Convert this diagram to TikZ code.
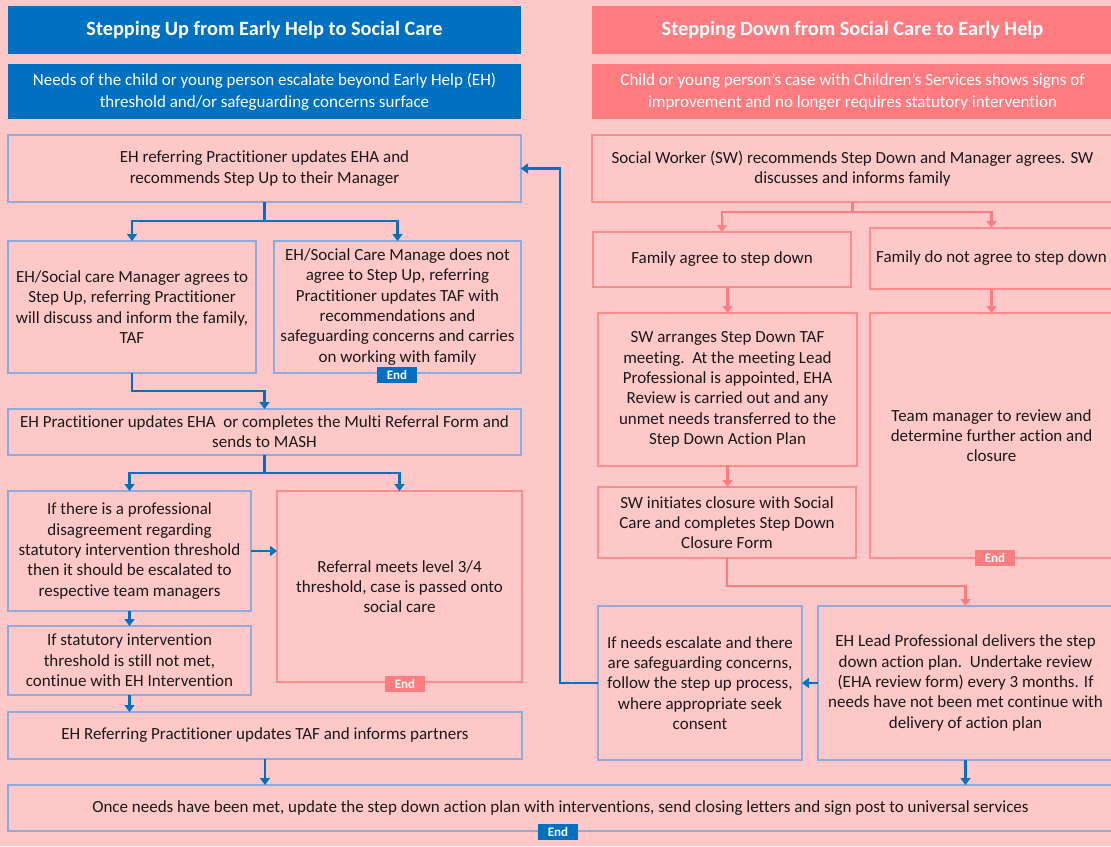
\documentclass[tikz,border=0pt]{standalone}
\usepackage{fontspec}
\setmainfont{Carlito}[Ligatures=NoCommon]
\usetikzlibrary{arrows.meta,calc}
\definecolor{bg}{RGB}{255,200,200}
\definecolor{eblue}{RGB}{0,112,192}
\definecolor{epink}{RGB}{255,124,128}
\definecolor{bborder}{RGB}{143,170,220}
\definecolor{pborder}{RGB}{255,140,140}
\definecolor{txt}{RGB}{25,25,25}
\newcommand{\mkbox}[7]{\node[#6, minimum width={(#4-#2)*1pt}, minimum height={(#5-#3)*1pt}] (#1) at ({(#2+#4)/2},{(#3+#5)/2}) {#7};}
\begin{document}
\begin{tikzpicture}[x=1pt,y=-1pt,
  box/.style={draw, line width=1.2pt, inner sep=0pt, outer sep=0pt, align=center, text=txt, font=\fontsize{17}{20.3}\selectfont},
  bbox/.style={box, draw=bborder},
  pbox/.style={box, draw=pborder},
  head/.style={inner sep=0pt, outer sep=0pt, align=center, text=white, font=\bfseries\fontsize{20.3}{24}\selectfont},
  sub/.style={inner sep=0pt, outer sep=0pt, align=center, text=white, font=\fontsize{17}{22}\selectfont},
  endlab/.style={inner sep=0pt, minimum width=40pt, minimum height=16pt, text=white, font=\bfseries\fontsize{13}{13}\selectfont},
  bline/.style={draw=eblue, line width=2.6pt},
  barrow/.style={bline, -{Triangle[width=10pt,length=7pt]}},
  pline/.style={draw=epink, line width=2.2pt},
  parrow/.style={pline, -{Triangle[width=10pt,length=7pt]}},
]
\useasboundingbox (0,0) rectangle (1111,846);
\fill[bg] (0,0) rectangle (1111,846);

% headers
\mkbox{hL}{8}{6}{521}{54}{head, fill=eblue}{Stepping Up from Early Help to Social Care}
\mkbox{sL}{8}{64}{521}{119}{sub, fill=eblue}{Needs of the child or young person escalate beyond Early Help (EH)\\threshold and/or safeguarding concerns surface}
\mkbox{hR}{592}{6}{1113}{54}{head, fill=epink}{Stepping Down from Social Care to Early Help}
\mkbox{sR}{592}{64}{1113}{119}{sub, fill=epink}{Child or young person’s case with Children’s Services shows signs of\\improvement and no longer requires statutory intervention}

% left column
\mkbox{A}{8}{135}{521}{202}{bbox}{EH referring Practitioner updates EHA and\\recommends Step Up to their Manager}
\mkbox{B1}{8}{241}{256}{373}{bbox}{EH/Social care Manager agrees to\\Step Up, referring Practitioner\\will discuss and inform the family,\\TAF}
\mkbox{B2}{274}{241}{521}{373}{bbox}{EH/Social Care Manage does not\\agree to Step Up, referring\\Practitioner updates TAF with\\recommendations and\\safeguarding concerns and carries\\on working with family}
\mkbox{C}{8}{409}{521}{455}{bbox}{EH Practitioner updates EHA\ \ or completes the Multi Referral Form and\\sends to MASH}
\mkbox{D1}{8}{491}{251}{611}{bbox}{If there is a professional\\disagreement regarding\\statutory intervention threshold\\then it should be escalated to\\respective team managers}
\mkbox{D2}{277}{491}{522}{682}{pbox}{Referral meets level 3/4\\threshold, case is passed onto\\social care}
\mkbox{E}{8}{626}{251}{695}{bbox}{If statutory intervention\\threshold is still not met,\\continue with EH Intervention}
\mkbox{F}{8}{712}{522}{759}{bbox}{EH Referring Practitioner updates TAF and informs partners}
\mkbox{G}{8}{785}{1113}{831}{bbox}{Once needs have been met, update the step down action plan with interventions, send closing letters and sign post to universal services}

% right column
\mkbox{R1}{592}{135}{1113}{202}{pbox}{Social Worker (SW) recommends Step Down and Manager agrees. SW\\discusses and informs family}
\mkbox{R2a}{593}{232}{851}{287}{pbox}{Family agree to step down}
\mkbox{R2b}{870}{228}{1113}{289}{pbox}{Family do not agree to step down}
\mkbox{R3a}{598}{313}{857}{466}{pbox}{SW arranges Step Down TAF\\meeting.\ \ At the meeting Lead\\Professional is appointed, EHA\\Review is carried out and any\\unmet needs transferred to the\\Step Down Action Plan}
\mkbox{R3b}{870}{313}{1113}{558}{pbox}{Team manager to review and\\determine further action and\\closure}
\mkbox{R4}{598}{487}{856}{558}{pbox}{SW initiates closure with Social\\Care and completes Step Down\\Closure Form}
\mkbox{R5a}{598}{606}{802}{760}{bbox}{If needs escalate and there\\are safeguarding concerns,\\follow the step up process,\\where appropriate seek\\consent}
\mkbox{R5b}{818}{606}{1113}{760}{bbox}{EH Lead Professional delivers the step\\down action plan.\ \ Undertake review\\(EHA review form) every 3 months. If\\needs have not been met continue with\\delivery of action plan}

% End labels
\node[endlab, fill=eblue] (eB2) at (397,375) {End};
\node[endlab, fill=epink] (eD2) at (405,684) {End};
\node[endlab, fill=epink] (eR3b) at (995,558) {End};
\node[endlab, fill=eblue] (eG) at (558,832) {End};

% left connectors
\coordinate (jA) at ($(A.south)+(0,19)$);
\draw[bline] (A.south) -- (jA);
\draw[barrow] (jA) -| (B1.north);
\draw[barrow] (jA) -| (B2.north);
\draw[barrow] (B1.south) -- ++(0,18) -| (C.north);
\coordinate (jC) at ($(C.south)+(0,18)$);
\draw[bline] (C.south) -- (jC);
\draw[barrow] (jC) -| (D1.north);
\draw[barrow] (jC) -| (D2.north);
\draw[barrow] (D1.east) -- (D1.east -| D2.west);
\draw[barrow] (D1.south) -- (E.north);
\draw[barrow] (E.south) -- (E.south |- F.north);
\draw[barrow] (F.south) -- (F.south |- G.north);

% right connectors
\coordinate (jR) at ($(R1.south)+(0,10)$);
\draw[pline] (R1.south) -- (jR);
\draw[parrow] (jR) -| (R2a.north);
\draw[parrow] (jR) -| (R2b.north);
\draw[parrow] (R3a.north |- R2a.south) -- (R3a.north);
\draw[parrow] (R2b.south) -- (R2b.south |- R3b.north);
\draw[parrow] (R3a.south) -- (R3a.south |- R4.north);
\draw[parrow] (R4.south) -- ++(0,28) -| (R5b.north);
\draw[barrow] (R5b.west) -- (R5a.east);
\draw[barrow] (R5a.west) -- ++(-38,0) |- (A.east);
\draw[barrow] (R5b.south) -- (R5b.south |- G.north);
\end{tikzpicture}
\end{document}
